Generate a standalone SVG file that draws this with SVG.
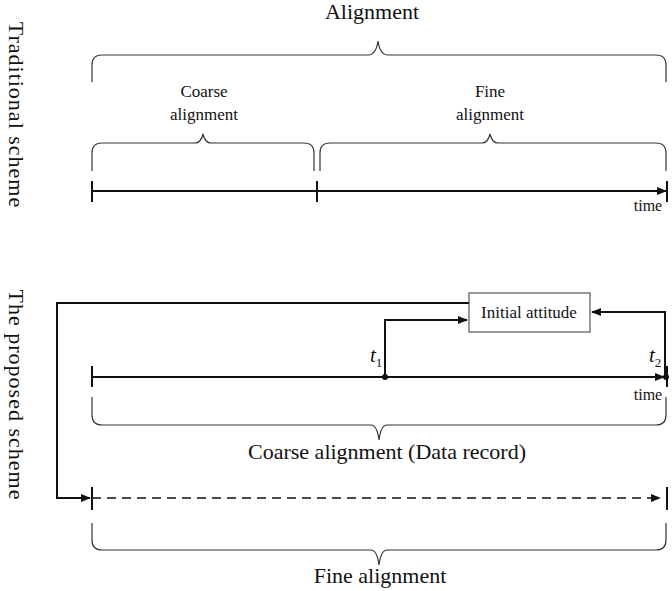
<svg xmlns="http://www.w3.org/2000/svg" width="672" height="591" viewBox="0 0 672 591" font-family="'Liberation Serif', 'Times New Roman', serif">
<style>
.b{fill:none;stroke:#333;stroke-width:1.2}
.l{fill:none;stroke:#111;stroke-width:2}
.t{font-size:16px}
.m{font-size:17px}
.g{font-size:22px}
</style>
<defs>
<marker id="a" markerWidth="10" markerHeight="8" refX="9" refY="4" orient="auto" markerUnits="userSpaceOnUse"><path d="M0,0L10,4L0,8z" fill="#111"/></marker>
</defs>
<rect width="672" height="591" fill="#fff"/>
<g fill="#111">
<text class="g" transform="translate(9,115) rotate(90)" text-anchor="middle" letter-spacing="1">Traditional  scheme</text>
<text class="g" transform="translate(9,395) rotate(90)" text-anchor="middle" letter-spacing="1">The proposed  scheme</text>
<g id="top">
<text class="g" x="372" y="19" text-anchor="middle">Alignment</text>
<path class="b" d="M92,82V65Q92,55,102,55H368Q376,55,378,41Q380,55,388,55H656Q666,55,666,65V82"/>
<text class="m" x="204" y="97" text-anchor="middle">Coarse</text>
<text class="m" x="204" y="120" text-anchor="middle">alignment</text>
<path class="b" d="M92,171V153Q92,143,102,143H195Q201,143,203,134Q205,143,211,143H304Q314,143,314,153V171"/>
<text class="m" x="490" y="97" text-anchor="middle">Fine</text>
<text class="m" x="490" y="120" text-anchor="middle">alignment</text>
<path class="b" d="M320,171V153Q320,143,330,143H482Q488,143,490,134Q492,143,498,143H656Q666,143,666,153V171"/>
<line class="l" x1="92" y1="191" x2="666" y2="191" marker-end="url(#a)"/>
<line class="l" x1="92" y1="181" x2="92" y2="202"/>
<line class="l" x1="317" y1="181" x2="317" y2="202"/>
<line class="l" x1="667" y1="181" x2="667" y2="202"/>
<text class="t" x="648" y="211" text-anchor="middle">time</text>
</g>
<g id="box">
<rect x="469" y="293" width="121" height="39" fill="#fff" stroke="#555" stroke-width="1.2"/>
<text class="m" x="529" y="318" text-anchor="middle">Initial attitude</text>
</g>
<g id="connectors">
<path class="l" d="M469,303H57V498H90" marker-end="url(#a)"/>
<path class="l" d="M385,377V320H467" marker-end="url(#a)"/>
<path class="l" d="M665,377V312H592" marker-end="url(#a)"/>
</g>
<g id="bottom">
<line class="l" x1="92" y1="377" x2="664" y2="377" marker-end="url(#a)"/>
<line class="l" x1="92" y1="366" x2="92" y2="387"/>
<line class="l" x1="667" y1="366" x2="667" y2="387"/>
<circle cx="385" cy="377" r="3" fill="#111"/>
<circle cx="666" cy="377" r="3" fill="#111"/>
<text x="370" y="362" font-size="21" font-style="italic">t<tspan font-size="13" font-style="normal" dy="5">1</tspan></text>
<text x="649" y="362" font-size="21" font-style="italic">t<tspan font-size="13" font-style="normal" dy="5">2</tspan></text>
<text class="t" x="648" y="400" text-anchor="middle">time</text>
<path class="b" d="M92,397V415Q92,425,102,425H371Q377,425,379,440Q381,425,387,425H656Q666,425,666,415V397"/>
<text class="g" x="387" y="459" text-anchor="middle">Coarse alignment (Data record)</text>
<line x1="92" y1="498" x2="660" y2="498" stroke="#111" stroke-width="1.6" stroke-dasharray="9,6" marker-end="url(#a)"/>
<line class="l" x1="92" y1="487" x2="92" y2="510"/>
<line class="l" x1="667" y1="487" x2="667" y2="510"/>
<path class="b" d="M92,523V540Q92,550,102,550H371Q377,550,379,565Q381,550,387,550H656Q666,550,666,540V523"/>
<text class="g" x="380" y="583" text-anchor="middle">Fine alignment</text>
</g>
</g>
</svg>
